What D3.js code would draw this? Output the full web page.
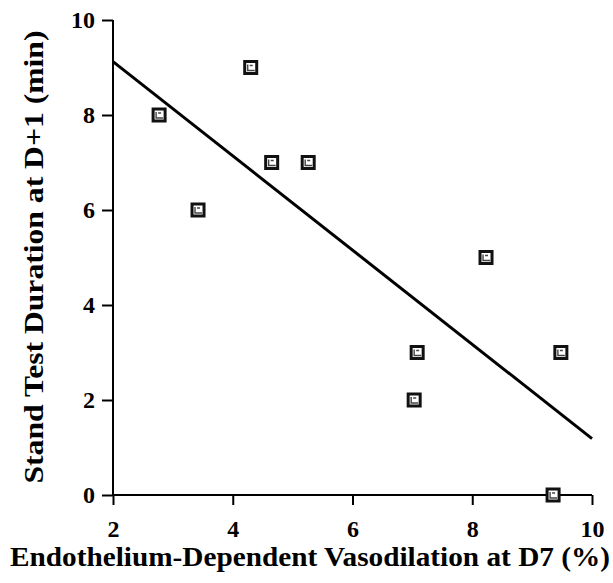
<!DOCTYPE html>
<html>
<head>
<meta charset="utf-8">
<script src="https://cdn.jsdelivr.net/npm/d3@7"></script>
<style>
  body { margin: 0; background: #fff; }
  svg { display: block; }
  text { font-family: "Liberation Serif", "Times New Roman", serif; font-weight: bold; fill: #000; }
</style>
</head>
<body>
<svg width="613" height="583"></svg>
<script>
// values
const vasodilation = [2.77, 3.42, 4.30, 4.65, 5.26, 7.03, 7.08, 8.23, 9.48, 9.35];
const standTime    = [8,    6,    9,    7,    7,    2,    3,    5,    3,    0];
const xTicks = [2, 4, 6, 8, 10];
const yTicks = [0, 2, 4, 6, 8, 10];

const margin = { top: 20, right: 21, bottom: 88, left: 113 };
const width = 613 - margin.left - margin.right;
const height = 583 - margin.top - margin.bottom;

const svg = d3.select('svg');
const g = svg.append('g')
    .attr('transform', `translate(${margin.left},${margin.top})`);

const x = d3.scaleLinear().domain([2, 10]).range([0, width]);
const y = d3.scaleLinear().domain([0, 10]).range([height, 0]);

// axes
const xAxis = g.append('g')
    .attr('transform', `translate(0,${height})`)
    .call(d3.axisBottom(x).tickValues(xTicks).tickSize(10).tickPadding(15));
const yAxis = g.append('g')
    .call(d3.axisLeft(y).tickValues(yTicks).tickSize(11).tickPadding(7));

[xAxis, yAxis].forEach(a => {
  a.select('.domain').remove();
  a.selectAll('line').attr('stroke', '#000').attr('stroke-width', 2);
  a.selectAll('text').style('font-size', '24px').attr('fill', '#000');
});

g.append('line')
    .attr('x1', 0).attr('x2', width)
    .attr('y1', height).attr('y2', height)
    .attr('stroke', '#000').attr('stroke-width', 2);
g.append('line')
    .attr('x1', 0).attr('x2', 0)
    .attr('y1', y(10)).attr('y2', height)
    .attr('stroke', '#000').attr('stroke-width', 2);

// least squares fit
const mx = d3.mean(vasodilation), my = d3.mean(standTime);
const sxy = d3.sum(vasodilation, (v, i) => (v - mx) * (standTime[i] - my));
const sxx = d3.sum(vasodilation, v => (v - mx) * (v - mx));
const slope = sxy / sxx, icpt = my - slope * mx;

g.append('path')
    .datum([2, 10])
    .attr('d', d3.line().x(d => x(d)).y(d => y(icpt + slope * d)))
    .attr('fill', 'none')
    .attr('stroke', '#000')
    .attr('stroke-width', 3);

// markers
const pts = g.append('g')
    .selectAll('g')
    .data(vasodilation.map((v, i) => [v, standTime[i]]))
    .enter()
    .append('g')
    .attr('transform', d => `translate(${x(d[0])},${y(d[1])})`);

pts.append('rect')
    .attr('x', -7.5).attr('y', -7.5)
    .attr('width', 15).attr('height', 15)
    .attr('fill', '#111');
pts.append('rect')
    .attr('x', -4.5).attr('y', -4.5)
    .attr('width', 9).attr('height', 9)
    .attr('fill', '#fff');
pts.append('path')
    .attr('d', 'M-3,-3V3H4M-1,-2H2')
    .attr('fill', 'none')
    .attr('stroke', '#444')
    .attr('stroke-width', 1.4);

// titles
svg.append('text')
    .attr('x', 310)
    .attr('y', 566)
    .attr('text-anchor', 'middle')
    .attr('textLength', 600)
    .attr('lengthAdjust', 'spacingAndGlyphs')
    .style('font-size', '28px')
    .text('Endothelium-Dependent Vasodilation at D7 (%)');

svg.append('text')
    .attr('transform', 'translate(43,257) rotate(-90)')
    .attr('text-anchor', 'middle')
    .attr('textLength', 453)
    .attr('lengthAdjust', 'spacingAndGlyphs')
    .style('font-size', '28px')
    .text('Stand Test Duration at D+1 (min)');
</script>
</body>
</html>
